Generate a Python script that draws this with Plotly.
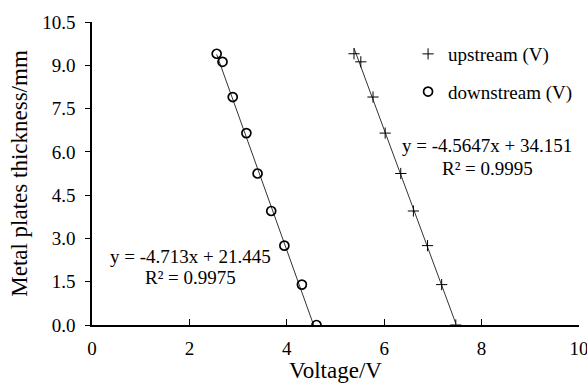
import plotly.graph_objects as go

thickness = [0.0, 1.4, 2.75, 3.95, 5.25, 6.65, 7.9, 9.12, 9.4]
up_voltage = [7.47, 7.18, 6.89, 6.60, 6.34, 6.02, 5.77, 5.52, 5.38]
down_voltage = [4.61, 4.31, 3.95, 3.68, 3.40, 3.17, 2.89, 2.68, 2.56]
up_fit = (-4.5647, 34.151)
down_fit = (-4.713, 21.445)
x_ticks = [0, 2, 4, 6, 8, 10]
y_ticks = [0.0, 1.5, 3.0, 4.5, 6.0, 7.5, 9.0, 10.5]
up_labels = ["y = -4.5647x + 34.151", "R² = 0.9995"]
down_labels = ["y = -4.713x + 21.445", "R² = 0.9975"]

FONT = "Liberation Serif, Times New Roman, serif"
FS = 19

fig = go.Figure()

def fit_line(xs, fit):
    x0, x1 = min(xs), max(xs)
    return [x0, x1], [fit[0] * x0 + fit[1], fit[0] * x1 + fit[1]]

for xs, fit in [(up_voltage, up_fit), (down_voltage, down_fit)]:
    lx, ly = fit_line(xs, fit)
    fig.add_trace(go.Scatter(x=lx, y=ly, mode="lines", line=dict(color="#333", width=1),
                             showlegend=False, hoverinfo="skip"))

fig.add_trace(go.Scatter(x=up_voltage, y=thickness, mode="markers", name="upstream (V)",
                         legendgroup="up",
                         marker=dict(symbol="cross-thin-open", size=8, color="black",
                                     line=dict(color="black", width=1))))
fig.add_trace(go.Scatter(x=down_voltage, y=thickness, mode="markers", name="downstream (V)",
                         legendgroup="down",
                         marker=dict(symbol="circle-open", size=9, color="black",
                                     line=dict(color="black", width=1.7))))

for (ax, ys, labels) in [(2.03, (2.36, 1.63), down_labels), (8.12, (6.22, 5.42), up_labels)]:
    for yv, txt in zip(ys, labels):
        fig.add_annotation(x=ax, y=yv, text=txt, showarrow=False,
                           font=dict(family=FONT, size=FS, color="black"))

fig.update_layout(
    width=587, height=383,
    margin=dict(l=92, r=8, t=22, b=58),
    paper_bgcolor="white", plot_bgcolor="white",
    font=dict(family=FONT, size=FS, color="black"),
    legend=dict(x=0.649, y=0.957, xanchor="left", yanchor="top", tracegroupgap=10,
                bgcolor="rgba(0,0,0,0)", font=dict(size=FS)),
    xaxis=dict(range=[0, 10], tickvals=x_ticks, ticks="inside", ticklen=6, tickcolor="black",
               showline=True, linecolor="black", linewidth=1.5, showgrid=False, zeroline=False,
               ticklabeloverflow="allow", ticklabelstandoff=5, automargin=False,
               title=dict(text="Voltage/V", standoff=6), tickfont=dict(size=FS)),
    yaxis=dict(range=[0, 10.5], tickvals=y_ticks, tickformat=".1f", ticks="outside", ticklen=5,
               tickcolor="black", showline=True, linecolor="black", linewidth=1.5,
               showgrid=False, zeroline=False, ticklabelstandoff=6, automargin=False,
               title=dict(text="Metal plates thickness/mm", standoff=8), tickfont=dict(size=FS)),
)

fig.write_html("out.html")
